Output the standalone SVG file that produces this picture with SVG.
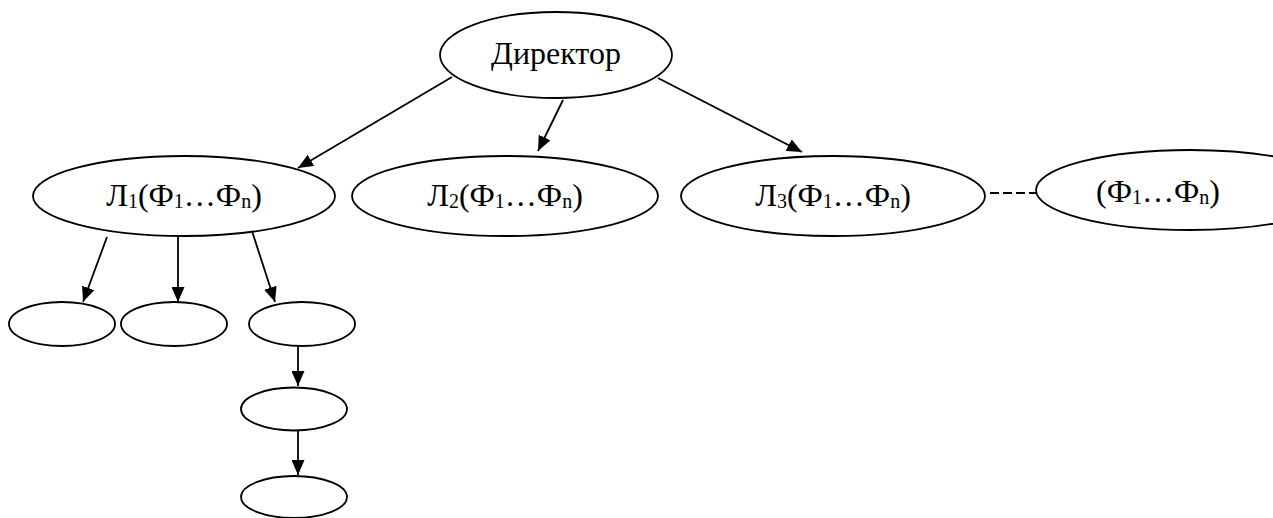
<svg xmlns="http://www.w3.org/2000/svg" width="1273" height="518" viewBox="0 0 1273 518">
  <style>
    .node ellipse { fill: #ffffff; stroke: #000000; stroke-width: 1.8; }
    .label { font-family: "Liberation Serif", "Times New Roman", serif; font-size: 32px; fill: #000000; }
    .sub { font-size: 20px; }
    .edge { stroke: #000000; stroke-width: 1.8; fill: none; }
    .arrow { marker-end: url(#head); }
    .dash { stroke-dasharray: 9 4; }
  </style>
  <defs>
    <marker id="head" viewBox="0 0 15 13" refX="15" refY="6.5" markerWidth="15" markerHeight="13" markerUnits="userSpaceOnUse" orient="auto">
      <path d="M0,0 L15,6.5 L0,13 Z" fill="#000000"/>
    </marker>
  </defs>

  <!-- connectors -->
  <g id="edges">
    <line class="edge arrow" x1="452" y1="77" x2="298" y2="168"/>
    <line class="edge arrow" x1="563" y1="100" x2="538" y2="151"/>
    <line class="edge arrow" x1="658" y1="78" x2="802" y2="152"/>
    <line class="edge dash" x1="990" y1="193" x2="1036" y2="193"/>
    <line class="edge arrow" x1="107" y1="237" x2="83" y2="302"/>
    <line class="edge arrow" x1="178" y1="237" x2="178" y2="302"/>
    <line class="edge arrow" x1="251" y1="228" x2="275" y2="302"/>
    <line class="edge arrow" x1="298" y1="343" x2="298" y2="386"/>
    <line class="edge arrow" x1="298" y1="431" x2="298" y2="475"/>
  </g>

  <g id="director" class="node">
    <ellipse cx="556" cy="55" rx="116" ry="43"/>
    <text class="label" x="556" y="64" text-anchor="middle">Директор</text>
  </g>

  <g id="l1" class="node">
    <ellipse cx="184" cy="196" rx="151" ry="40"/>
    <text class="label" x="184" y="206" text-anchor="middle">Л<tspan class="sub" dy="2">1</tspan><tspan dy="-2">(Ф</tspan><tspan class="sub" dy="2">1</tspan><tspan dy="-2">…Ф</tspan><tspan class="sub" dy="2">n</tspan><tspan dy="-2">)</tspan></text>
  </g>

  <g id="l2" class="node">
    <ellipse cx="505" cy="196" rx="153" ry="40"/>
    <text class="label" x="505" y="206" text-anchor="middle">Л<tspan class="sub" dy="2">2</tspan><tspan dy="-2">(Ф</tspan><tspan class="sub" dy="2">1</tspan><tspan dy="-2">…Ф</tspan><tspan class="sub" dy="2">n</tspan><tspan dy="-2">)</tspan></text>
  </g>

  <g id="l3" class="node">
    <ellipse cx="833" cy="196" rx="152" ry="40"/>
    <text class="label" x="833" y="206" text-anchor="middle">Л<tspan class="sub" dy="2">3</tspan><tspan dy="-2">(Ф</tspan><tspan class="sub" dy="2">1</tspan><tspan dy="-2">…Ф</tspan><tspan class="sub" dy="2">n</tspan><tspan dy="-2">)</tspan></text>
  </g>

  <g id="ln" class="node">
    <ellipse cx="1190" cy="190" rx="154" ry="40"/>
    <text class="label" x="1158" y="202" text-anchor="middle">(Ф<tspan class="sub" dy="2">1</tspan><tspan dy="-2">…Ф</tspan><tspan class="sub" dy="2">n</tspan><tspan dy="-2">)</tspan></text>
  </g>

  <g id="d1" class="node">
    <ellipse cx="62" cy="324" rx="53" ry="22"/>
  </g>
  <g id="d2" class="node">
    <ellipse cx="174" cy="324" rx="53" ry="22"/>
  </g>
  <g id="d3" class="node">
    <ellipse cx="302" cy="324" rx="53" ry="22"/>
  </g>
  <g id="d3a" class="node">
    <ellipse cx="294" cy="409" rx="53" ry="21.5"/>
  </g>
  <g id="d3b" class="node">
    <ellipse cx="294" cy="497" rx="53" ry="21"/>
  </g>
</svg>
